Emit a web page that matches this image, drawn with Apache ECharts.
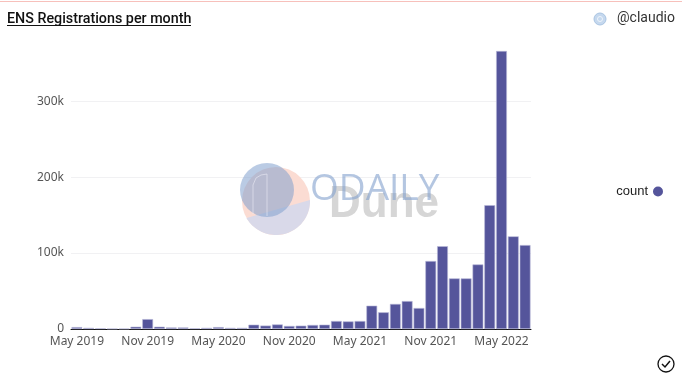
<!DOCTYPE html>
<html>
<head>
<meta charset="utf-8">
<title>ENS Registrations per month</title>
<script src="https://cdn.jsdelivr.net/npm/echarts@6/dist/echarts.min.js"></script>
<style>
  html, body { margin: 0; padding: 0; background: #fff; }
  #chart { width: 682px; height: 380px; }
</style>
</head>
<body>
<div id="chart"></div>
<script>
const months = [
  'May 2019', 'Jun 2019', 'Jul 2019', 'Aug 2019', 'Sep 2019', 'Oct 2019', 'Nov 2019', 'Dec 2019',
  'Jan 2020', 'Feb 2020', 'Mar 2020', 'Apr 2020', 'May 2020', 'Jun 2020', 'Jul 2020', 'Aug 2020',
  'Sep 2020', 'Oct 2020', 'Nov 2020', 'Dec 2020', 'Jan 2021', 'Feb 2021', 'Mar 2021', 'Apr 2021',
  'May 2021', 'Jun 2021', 'Jul 2021', 'Aug 2021', 'Sep 2021', 'Oct 2021', 'Nov 2021', 'Dec 2021',
  'Jan 2022', 'Feb 2022', 'Mar 2022', 'Apr 2022', 'May 2022', 'Jun 2022', 'Jul 2022'
]
const counts = [
  2500, 1500, 1000, 500, 500, 3000, 13000, 3000,
  2000, 2000, 1000, 1500, 2500, 1500, 1500, 5700,
  4500, 6000, 4000, 4400, 5300, 5700, 10500, 10000,
  10500, 30700, 22000, 33000, 36800, 27600, 89500, 109000,
  66600, 66600, 85000, 163000, 366000, 122000, 110500
]

const fontFamily = '"Noto Sans", sans-serif'
const chart = echarts.init(document.getElementById('chart'))

// lower part of the watermark disc
const discSegment = []
for (let a = -0.03; a < 2.62; a += 0.05) {
  discSegment.push([276 + 34 * Math.cos(a), 201 + 34 * Math.sin(a)])
}

chart.setOption({
  animation: false,
  backgroundColor: '#fff',
  title: {
    text: 'ENS Registrations per month',
    left: 7,
    top: 12,
    padding: 0,
    textStyle: { fontFamily: 'Roboto', fontSize: 14.3, fontWeight: 500, color: '#111' },
  },
  legend: {
    orient: 'vertical',
    right: 19,
    top: 185,
    padding: 0,
    align: 'right',
    icon: 'circle',
    itemWidth: 10,
    itemHeight: 10,
    itemGap: 5,
    itemStyle: { borderWidth: 0 },
    textStyle: { fontFamily: '"Liberation Sans"', fontSize: 13, color: '#222' },
    data: ['count'],
  },
  grid: { left: 71, right: 151, top: 51, bottom: 51 },
  xAxis: {
    type: 'category',
    data: months,
    axisLine: { lineStyle: { color: '#111', width: 1 } },
    axisTick: { show: false },
    axisLabel: { interval: 5, color: '#555', fontFamily, fontSize: 12, margin: 7, hideOverlap: false },
  },
  yAxis: {
    type: 'value',
    min: 0,
    max: 366000,
    interval: 100000,
    axisLine: { show: false },
    axisTick: { show: false },
    axisLabel: {
      color: '#555',
      fontFamily,
      fontSize: 12,
      margin: 7,
      formatter: (v) => (v === 0 ? '0' : `${v / 1000}k`),
      showMaxLabel: false,
    },
    splitLine: { showMaxLine: false, lineStyle: { color: '#f1f1f3', width: 1 } },
  },
  series: [
    {
      name: 'count',
      type: 'bar',
      data: counts,
      barWidth: 10.8,
      itemStyle: { color: '#55559b', borderColor: '#b9b9d8', borderWidth: 0.6 },
    },
  ],
  graphic: [
    // top edge of the page
    { type: 'rect', shape: { x: 0, y: 1, width: 682, height: 1 }, style: { fill: '#f7c0bb' } },
    // title underline
    { type: 'rect', shape: { x: 7, y: 25, width: 184, height: 1 }, style: { fill: '#111' } },
    // @claudio
    { type: 'circle', shape: { cx: 600, cy: 19, r: 6 }, style: { fill: '#c5d8ee', stroke: '#a9c4e2', lineWidth: 1 } },
    { type: 'circle', shape: { cx: 600, cy: 19, r: 2.5 }, style: { fill: 'none', stroke: '#eef4fb', lineWidth: 1 } },
    { type: 'text', left: 617, top: 11, style: { text: '@claudio', fontFamily: 'Roboto', fontSize: 14, fill: '#333' } },
    // watermark
    { type: 'circle', z: 10, shape: { cx: 276, cy: 201, r: 34 }, style: { fill: '#fbdcd3' } },
    { type: 'polygon', z: 11, shape: { points: discSegment }, style: { fill: '#d9d9e9' } },
    { type: 'text', z: 11, left: 329, top: 183, style: { text: 'Dune', fontFamily: '"Liberation Sans"', fontWeight: 'bold', fontSize: 44, fill: '#d6d6d6' } },
    { type: 'circle', z: 12, shape: { cx: 267, cy: 190, r: 27 }, style: { fill: 'rgba(130,160,205,0.55)' } },
    { type: 'polyline', z: 13, shape: { points: [[253, 214], [253, 185], [256, 178], [261, 175], [267, 174], [267, 216]] }, style: { fill: 'none', stroke: 'rgba(235,235,245,0.6)', lineWidth: 1 } },
    { type: 'text', z: 13, left: 310, top: 171, style: { text: 'ODAILY', fontFamily: '"Open Sans"', fontSize: 37, fill: 'rgba(130,160,205,0.6)' } },
    // check icon
    { type: 'circle', shape: { cx: 666, cy: 364, r: 8 }, style: { fill: 'none', stroke: '#111', lineWidth: 1.3 } },
    { type: 'polyline', shape: { points: [[662, 364], [665, 367], [670, 361]] }, style: { fill: 'none', stroke: '#111', lineWidth: 1.5 } },
  ],
})
</script>
</body>
</html>
